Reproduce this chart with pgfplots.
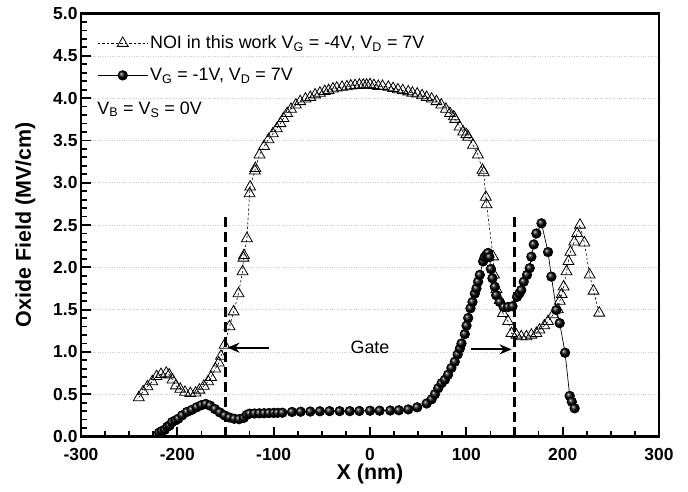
\documentclass[border=0pt]{standalone}
\usepackage{fontspec}
\setmainfont{Liberation Sans}
\usepackage{pgfplots}
\pgfplotsset{compat=1.18}
\usetikzlibrary{arrows.meta}

% Oxide field along the channel, V_G = -4 V (NOI)
\pgfplotstableread{
x      y
-240   0.46
-235.5 0.53
-231   0.59
-226   0.65
-221.5 0.71
-217   0.735
-211.5 0.75
-208.5 0.73
-205   0.67
-201.5 0.60
-197   0.56
-192   0.525
-186.5 0.51
-181   0.515
-177   0.55
-172.5 0.595
-168   0.65
-165   0.70
-160.6 0.80
-157   0.87
-154.7 0.95
-151   1.08
-145.8 1.30
-141.6 1.475
-136.5 1.69
-132.3 1.95
-131.3 2.11
-130.8 2.14
-127.8 2.34
-125   2.87
-124.4 2.95
-119.5 3.14
-119   3.17
-114.7 3.33
-110   3.43
-105.4 3.51
-100.8 3.58
-96.7  3.64
-93    3.70
-89.8  3.76
-86    3.82
-82    3.87
-77    3.92
-72.5  3.96
-67    3.99
-62    4.01
-57    4.04
-52    4.06
-47    4.08
-43    4.09
-38.5  4.11
-34.5  4.12
-29    4.13
-24    4.135
-20    4.145
-15.5  4.15
-11    4.155
-7     4.155
-3.5   4.155
0      4.16
4      4.15
8.6    4.14
13     4.14
19     4.13
24     4.115
29     4.10
34     4.09
39.7   4.075
44     4.06
49     4.05
54     4.03
58.8   4.01
64     3.99
69     3.96
74     3.92
78.8   3.87
83     3.82
87     3.78
88.5   3.75
93     3.66
96.7   3.60
100    3.57
102    3.54
107    3.445
112    3.33
116.8  3.15
118    3.12
120.2  2.83
121    2.74
127.8  2.125
128.8  1.91
131.3  1.74
134.7  1.61
138    1.456
143.3  1.36
146.8  1.22
152    1.20
157    1.18
162.4  1.18
167.5  1.20
172.7  1.22
176    1.26
181    1.31
184.8  1.36
190    1.44
195    1.50
197    1.60
199    1.68
201    1.77
204    1.95
206    2.07
208    2.18
212    2.30
215    2.40
218    2.50
222.5  2.29
228    1.91
232    1.72
238    1.46
}\noitable

% Oxide field along the channel, V_G = -1 V
\pgfplotstableread{
x      y
-219   0.045
-216   0.065
-213   0.08
-210.5 0.115
-208   0.13
-205.5 0.17
-202   0.19
-199   0.21
-195   0.25
-190   0.29
-185   0.315
-180   0.345
-175   0.37
-170.5 0.385
-166   0.365
-161   0.325
-156   0.285
-151   0.25
-146   0.225
-141   0.21
-136   0.205
-131   0.22
-128   0.255
-125   0.27
-120   0.272
-115   0.274
-110   0.275
-105   0.277
-100   0.279
-96    0.28
-91    0.281
-81    0.29
-72    0.293
-62    0.295
-52    0.298
-42    0.30
-31.5  0.30
-21    0.30
-11    0.302
0      0.305
10     0.305
21     0.307
30     0.31
39.7   0.32
49     0.345
58.8   0.39
64     0.44
67.4   0.50
70.8   0.57
74.3   0.63
77.7   0.67
81     0.73
84.5   0.81
88     0.884
91     0.97
93.3   1.04
95     1.10
98.4   1.21
100.2  1.31
101.9  1.40
104.3  1.515
106.4  1.59
108.8  1.69
110.5  1.75
112.2  1.83
114    1.91
117.4  2.07
119    2.12
121    2.15
122.6  2.17
124    2.12
125.5  1.98
127.1  1.87
129.5  1.77
131    1.67
134.7  1.59
138.8  1.53
143.3  1.53
147.9  1.54
152.6  1.65
155    1.69
157    1.73
159.6  1.83
163    1.91
165.8  1.99
167.5  2.125
170    2.27
172.7  2.40
178    2.52
184.8  2.18
188.3  1.89
193.5  1.495
196.9  1.34
202.5  0.99
207.3  0.48
209.5  0.41
212.4  0.333
}\lowvgtable

\begin{document}
\begin{tikzpicture}
\begin{axis}[
  scale only axis, width=578bp, height=423bp,
  xmin=-300, xmax=300, ymin=0, ymax=5,
  xtick={-300,-200,-100,0,100,200,300},
  ytick={0,0.5,1,1.5,2,2.5,3,3.5,4,4.5,5},
  minor x tick num=3, minor y tick num=4,
  tick pos=left, tick align=inside,
  major tick length=10bp, minor tick length=6bp,
  every tick/.style={black, line width=1.8pt},
  axis line style={line width=2.4pt},
  ymajorgrids,
  major grid style={gray!40, dotted, line width=0.5pt},
  /pgf/number format/assume math mode=true,
  ticklabel style={font=\bfseries\fontsize{17.5}{17.5}\selectfont},
  xticklabel style={yshift=-8bp},
  yticklabel style={/pgf/number format/.cd, fixed, fixed zerofill, precision=1},
  xlabel={X (nm)}, ylabel={Oxide Field (MV/cm)},
  label style={font=\bfseries\fontsize{21.5}{21.5}\selectfont},
  xlabel style={yshift=3bp},
  ylabel style={yshift=11bp},
  legend style={at={(rel axis cs:0.028,0.952)}, anchor=north west,
    draw=none, fill=none, inner sep=0pt, row sep=14bp,
    font=\fontsize{18}{18}\selectfont,
    /tikz/every even column/.style={column sep=4bp}},
  legend cell align=left,
  legend image code/.code={%
    \draw[mark repeat=2,mark phase=2,#1] plot coordinates {(0bp,0bp) (25bp,0bp) (50bp,0bp)};},
]
\coordinate (sw) at (rel axis cs:0,0);
\coordinate (ne) at (rel axis cs:1,1);

\addplot[black, line width=0.6pt, dash pattern=on 2.5bp off 2bp,
  mark=triangle, mark size=6.3pt,
  mark options={solid, fill=white, line width=0.8pt}]
  table[x=x, y=y] {\noitable};
\addlegendentry{NOI in this work V\textsubscript{G} = -4V, V\textsubscript{D} = 7V}

\addplot[black, line width=0.7pt, mark=ball, mark size=4.8pt,
  mark options={ball color=black}]
  table[x=x, y=y] {\lowvgtable};
\addlegendentry{V\textsubscript{G} = -1V, V\textsubscript{D} = 7V}

% gate edges
\addplot[black, line width=2.4pt, dash pattern=on 10bp off 5bp, forget plot]
  coordinates {(-150,0) (-150,2.6)};
\addplot[black, line width=2.4pt, dash pattern=on 10bp off 5bp, forget plot]
  coordinates {(150,0) (150,2.6)};

\draw[-{Stealth[length=12bp,width=10bp]}, line width=2.2pt]
  (axis cs:-105,1.05) -- (axis cs:-148,1.05);
\draw[-{Stealth[length=12bp,width=10bp]}, line width=2.2pt]
  (axis cs:105,1.03) -- (axis cs:147,1.03);
\node[font=\fontsize{18}{18}\selectfont] at (axis cs:0,1.05) {Gate};

\node[anchor=base west, inner sep=0pt, font=\fontsize{18}{18}\selectfont]
  at (rel axis cs:0.028,0.762) {V\textsubscript{B} = V\textsubscript{S} = 0V};
\end{axis}
\pgfresetboundingbox
\path[use as bounding box] ([shift={(-81bp,-55bp)}]sw) rectangle ([shift={(29bp,13.5bp)}]ne);
\end{tikzpicture}
\end{document}
